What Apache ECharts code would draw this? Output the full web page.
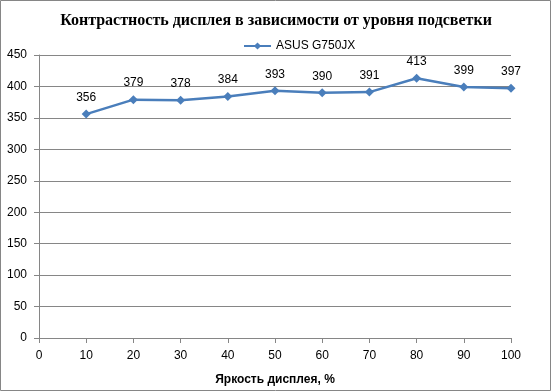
<!DOCTYPE html>
<html><head><meta charset="utf-8">
<script src="https://cdn.jsdelivr.net/npm/echarts@6/dist/echarts.min.js"></script>
<style>html,body{margin:0;padding:0;background:#fff}#c{width:552px;height:392px}</style>
</head><body><div id="c"></div>
<script>
const brightness = [10, 20, 30, 40, 50, 60, 70, 80, 90, 100];
const contrast = [356, 379, 378, 384, 393, 390, 391, 413, 399, 397];
const seriesName = 'ASUS G750JX';
const titleText = 'Контрастность дисплея в зависимости от уровня подсветки';
const xTitle = 'Яркость дисплея, %';

const chart = echarts.init(document.getElementById('c'));
const gray = '#868686';
chart.setOption({
  animation: false,
  backgroundColor: '#fff',
  graphic: [{type:'rect', shape:{x:0.5,y:0.5,width:550,height:390}, style:{fill:'none', stroke:gray, lineWidth:1}}],
  title: {text: titleText, left: 'center', top: 8,
    textStyle: {fontFamily: 'Liberation Serif', fontWeight: 'bold', fontSize: 16, color: '#000'}},
  legend: {top: 35, left: 238, itemWidth: 27, itemHeight: 9, itemGap: 4,
    data: [seriesName],
    textStyle: {fontFamily: 'Liberation Sans', fontSize: 12, color: '#000'}},
  grid: {left: 39, right: 41, top: 55, bottom: 54},
  xAxis: {type: 'value', min: 0, max: 100, interval: 10,
    name: xTitle, nameLocation: 'middle', nameGap: 36,
    nameTextStyle: {fontFamily: 'Liberation Sans', fontWeight: 'bold', fontSize: 12, color: '#000'},
    axisLine: {lineStyle: {color: gray}}, axisTick: {show: true, length: 5, lineStyle:{color: gray}},
    axisLabel: {fontFamily: 'Liberation Sans', fontSize: 12, color: '#000', margin: 12},
    splitLine: {show: false}},
  yAxis: {type: 'value', min: 0, max: 450, interval: 50,
    axisLine: {show: true, lineStyle: {color: gray}}, axisTick: {show: true, length: 5, inside:false, lineStyle:{color: gray}},
    axisLabel: {fontFamily: 'Liberation Sans', fontSize: 12, color: '#000', margin: 12},
    splitLine: {lineStyle: {color: gray}}},
  series: [{name: seriesName, type: 'line',
    data: brightness.map((b, i) => [b, contrast[i]]),
    symbol: 'diamond', symbolSize: 9,
    itemStyle: {color: '#4a7ebb'}, lineStyle: {color: '#4a7ebb', width: 2.5},
    label: {show: true, position: 'top', distance: 6, fontFamily: 'Liberation Sans', fontSize: 12, color: '#000'}}]
});
</script></body></html>
